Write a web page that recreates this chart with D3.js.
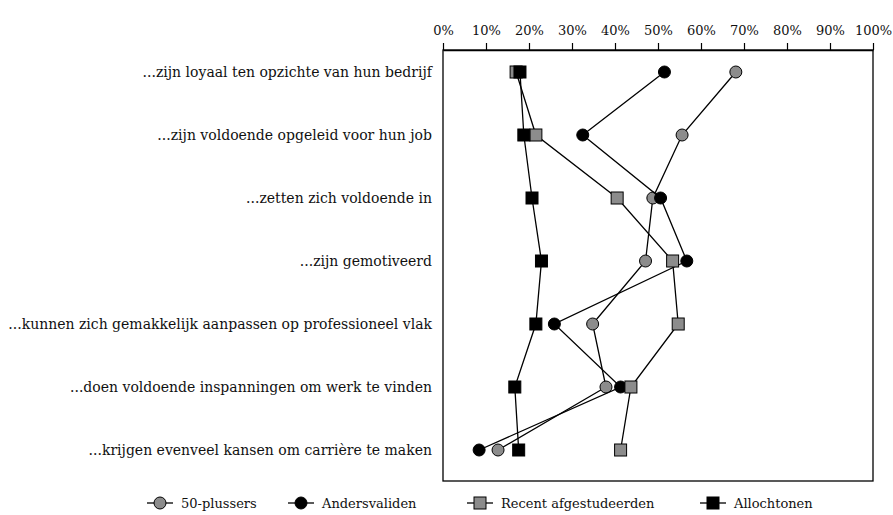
<!DOCTYPE html>
<html><head><meta charset="utf-8">
<script src="https://cdn.jsdelivr.net/npm/d3@7/dist/d3.min.js"></script>
<style>body{margin:0;background:#fff}svg{display:block}</style>
</head><body><svg id="c" width="893" height="515"></svg>
<script>
const categories = [
  "...zijn loyaal ten opzichte van hun bedrijf",
  "...zijn voldoende opgeleid voor hun job",
  "...zetten zich voldoende in",
  "...zijn gemotiveerd",
  "...kunnen zich gemakkelijk aanpassen op professioneel vlak",
  "...doen voldoende inspanningen om werk te vinden",
  "...krijgen evenveel kansen om carrière te maken"
];
const seriesNames = ["50-plussers", "Andersvaliden", "Recent afgestudeerden", "Allochtonen"];
const plussers50 = [68.1, 55.6, 48.8, 47.1, 34.8, 37.9, 12.8];
const andersvaliden = [51.5, 32.5, 50.6, 56.7, 25.9, 41.3, 8.4];
const recentAfgestudeerden = [17.0, 21.6, 40.5, 53.4, 54.7, 43.7, 41.3];
const allochtonen = [17.9, 18.8, 20.7, 22.9, 21.6, 16.7, 17.6];
const tickValues = [0,10,20,30,40,50,60,70,80,90,100];

const series = [
  {name: seriesNames[0], values: plussers50, shape: "circle", fill: "#8c8c8c"},
  {name: seriesNames[1], values: andersvaliden, shape: "circle", fill: "#000"},
  {name: seriesNames[2], values: recentAfgestudeerden, shape: "square", fill: "#8c8c8c"},
  {name: seriesNames[3], values: allochtonen, shape: "square", fill: "#000"}
];

const svg = d3.select("#c");
const font = "'DejaVu Serif', serif";
const L = 443, R = 873, T = 50, B = 481;
const x = d3.scaleLinear().domain([0,100]).range([L, R]);
const y = d3.scalePoint().domain(categories).range([72, 450]);

// frame
svg.append("rect").attr("x", L).attr("y", T).attr("width", R-L).attr("height", B-T)
  .attr("fill","none").attr("stroke","#000").attr("stroke-width",1.3);

// top axis
const ax = svg.append("g").attr("transform", `translate(0,${T})`)
  .call(d3.axisTop(x).tickValues(tickValues).tickFormat(d => d + "%").tickSize(7).tickSizeOuter(0));
ax.select(".domain").attr("stroke","#000").attr("stroke-width",1.3);
ax.selectAll(".tick line").attr("stroke","#000").attr("stroke-width",1.2);
ax.selectAll(".tick text").attr("font-family", font).attr("font-size", 13).attr("fill","#111").attr("dy", "-0.35em");

// category labels
svg.append("g").selectAll("text").data(categories).join("text")
  .attr("x", L - 11).attr("y", d => y(d)).attr("dy","0.35em")
  .attr("text-anchor","end").attr("font-family", font).attr("font-size", 14).attr("fill","#111")
  .text(d => d);

const line = d3.line().x(d => x(d.v)).y(d => y(d.c));
function marker(g, shape, fill, cx, cy) {
  if (shape === "circle") {
    g.append("circle").attr("cx", cx).attr("cy", cy).attr("r", 6)
      .attr("fill", fill).attr("stroke", "#000").attr("stroke-width", 1);
  } else {
    g.append("rect").attr("x", cx - 6).attr("y", cy - 6).attr("width", 12).attr("height", 12)
      .attr("fill", fill).attr("stroke", "#000").attr("stroke-width", 1);
  }
}
series.forEach(s => {
  const pts = s.values.map((v,i) => ({v, c: categories[i]}));
  const g = svg.append("g");
  g.append("path").attr("d", line(pts)).attr("fill","none").attr("stroke","#000").attr("stroke-width",1.3);
  pts.forEach(p => marker(g, s.shape, s.fill, x(p.v), y(p.c)));
});

// legend
const legX = [147, 288, 467, 700];
const legY = 503;
series.forEach((s, i) => {
  const g = svg.append("g");
  g.append("line").attr("x1", legX[i]).attr("x2", legX[i] + 26).attr("y1", legY).attr("y2", legY)
    .attr("stroke","#000").attr("stroke-width",1.3);
  marker(g, s.shape, s.fill, legX[i] + 13, legY);
  g.append("text").attr("x", legX[i] + 34).attr("y", legY).attr("dy","0.35em")
    .attr("font-family", font).attr("font-size", 13).attr("fill","#111").text(s.name);
});
</script></body></html>
